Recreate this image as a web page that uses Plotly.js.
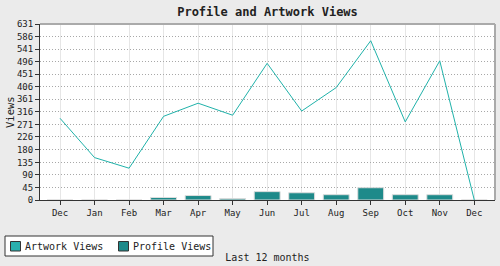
<!DOCTYPE html>
<html>
<head>
<meta charset="utf-8">
<script src="https://cdn.plot.ly/plotly-3.0.1.min.js"></script>
<style>
html,body{margin:0;padding:0;background:#ebebeb;}
#chart{width:500px;height:266px;}
</style>
</head>
<body>
<div id="chart"></div>
<script>
const months = ['Dec','Jan','Feb','Mar','Apr','May','Jun','Jul','Aug','Sep','Oct','Nov','Dec'];
const artworkViews = [293, 152, 114, 300, 347, 304, 490, 319, 403, 571, 280, 499, 0];
const profileViews = [0, 0, 0, 9, 16, 5, 30, 26, 19, 44, 19, 19, 0];
const yTickValues = [0, 45, 90, 135, 180, 226, 271, 316, 361, 406, 451, 496, 541, 586, 631];
const yTickLabels = ['0','45','90','135','180','226','271','316','361','406','451','496','541','586','631'];
const seriesNames = ['Artwork Views', 'Profile Views'];
const seriesColors = ['#20b2aa', '#1e8a8a'];

const xPos = months.map((m, i) => i);
const mono = 'DejaVu Sans Mono, monospace';

// plot area in pixels (for the hand-built legend box)
const M = {l: 40, r: 5, t: 24, b: 66};
const W = 500, H = 266;
const pw = W - M.l - M.r, ph = H - M.t - M.b;
const px = v => (v - M.l) / pw;
const py = v => (H - M.b - v) / ph;

const traces = [
  {
    type: 'bar', x: xPos, y: profileViews, name: seriesNames[1], width: 0.75,
    marker: {color: seriesColors[1], line: {color: '#dddddd', width: 1}},
    hoverinfo: 'skip'
  },
  {
    type: 'scatter', mode: 'lines', x: xPos, y: artworkViews, name: seriesNames[0],
    line: {color: seriesColors[0], width: 1}, cliponaxis: false
  }
];

const legendShapes = [
  {type: 'rect', xref: 'paper', yref: 'paper', x0: px(5), x1: px(213), y0: py(236), y1: py(256),
   line: {color: '#333333', width: 1}, fillcolor: '#ffffff', layer: 'above'},
  {type: 'rect', xref: 'paper', yref: 'paper', x0: px(10.5), x1: px(20.5), y0: py(241.5), y1: py(251),
   line: {color: '#333333', width: 1}, fillcolor: '#2ab0ae', layer: 'above'},
  {type: 'rect', xref: 'paper', yref: 'paper', x0: px(118.5), x1: px(128.5), y0: py(241.5), y1: py(251),
   line: {color: '#333333', width: 1}, fillcolor: seriesColors[1], layer: 'above'}
];
const textAnnotations = [
  {xref: 'paper', yref: 'paper', x: px(23), y: py(246.5), xanchor: 'left', yanchor: 'middle',
   text: seriesNames[0], showarrow: false, font: {family: mono, size: 10, color: '#222'}},
  {xref: 'paper', yref: 'paper', x: px(131), y: py(246.5), xanchor: 'left', yanchor: 'middle',
   text: seriesNames[1], showarrow: false, font: {family: mono, size: 10, color: '#222'}},
  {xref: 'paper', yref: 'paper', x: px(10), y: 0.5, xanchor: 'center', yanchor: 'middle',
   text: 'Views', textangle: -90, showarrow: false, font: {family: mono, size: 10.5, color: '#222'}}
];

const layout = {
  width: W, height: H,
  paper_bgcolor: '#ebebeb', plot_bgcolor: '#ffffff',
  margin: {l: M.l, r: M.r, t: M.t, b: M.b, pad: 0},
  font: {family: mono, size: 9, color: '#222'},
  title: {text: 'Profile and Artwork Views', x: 0.5, xref: 'paper', xanchor: 'center',
          y: 12, yref: 'container', yanchor: 'middle',
          font: {family: mono, size: 12, color: '#222', weight: 'bold'}},
  showlegend: false,
  xaxis: {
    range: [-0.58, 12.6], tickmode: 'array', tickvals: xPos, ticktext: months,
    showgrid: true, gridcolor: '#e6e6e6', gridwidth: 1,
    showline: true, linecolor: '#333', linewidth: 1,
    ticks: 'outside', ticklen: 4, tickcolor: '#333',
    tickfont: {family: mono, size: 9, color: '#222'},
    zeroline: false, fixedrange: true,
    title: {text: 'Last 12 months', font: {family: mono, size: 10, color: '#222'}, standoff: 37}
  },
  yaxis: {
    range: [0, 631], tickmode: 'array', tickvals: yTickValues, ticktext: yTickLabels,
    showgrid: true, gridcolor: '#a8a8a8', griddash: '1px,2px', gridwidth: 1,
    showline: true, linecolor: '#333', linewidth: 1,
    ticks: 'outside', ticklen: 4, tickcolor: '#333',
    tickfont: {family: mono, size: 9, color: '#222'},
    zeroline: false, fixedrange: true
  },
  shapes: [
    {type: 'line', xref: 'paper', yref: 'paper', x0: 0, x1: 1, y0: 1, y1: 1, line: {color: '#aaaaaa', width: 2}},
    {type: 'line', xref: 'paper', yref: 'paper', x0: 1, x1: 1, y0: 0, y1: 1, line: {color: '#aaaaaa', width: 2}}
  ].concat(legendShapes),
  annotations: textAnnotations
};

Plotly.newPlot('chart', traces, layout, {displayModeBar: false, staticPlot: true});
</script>
</body>
</html>
